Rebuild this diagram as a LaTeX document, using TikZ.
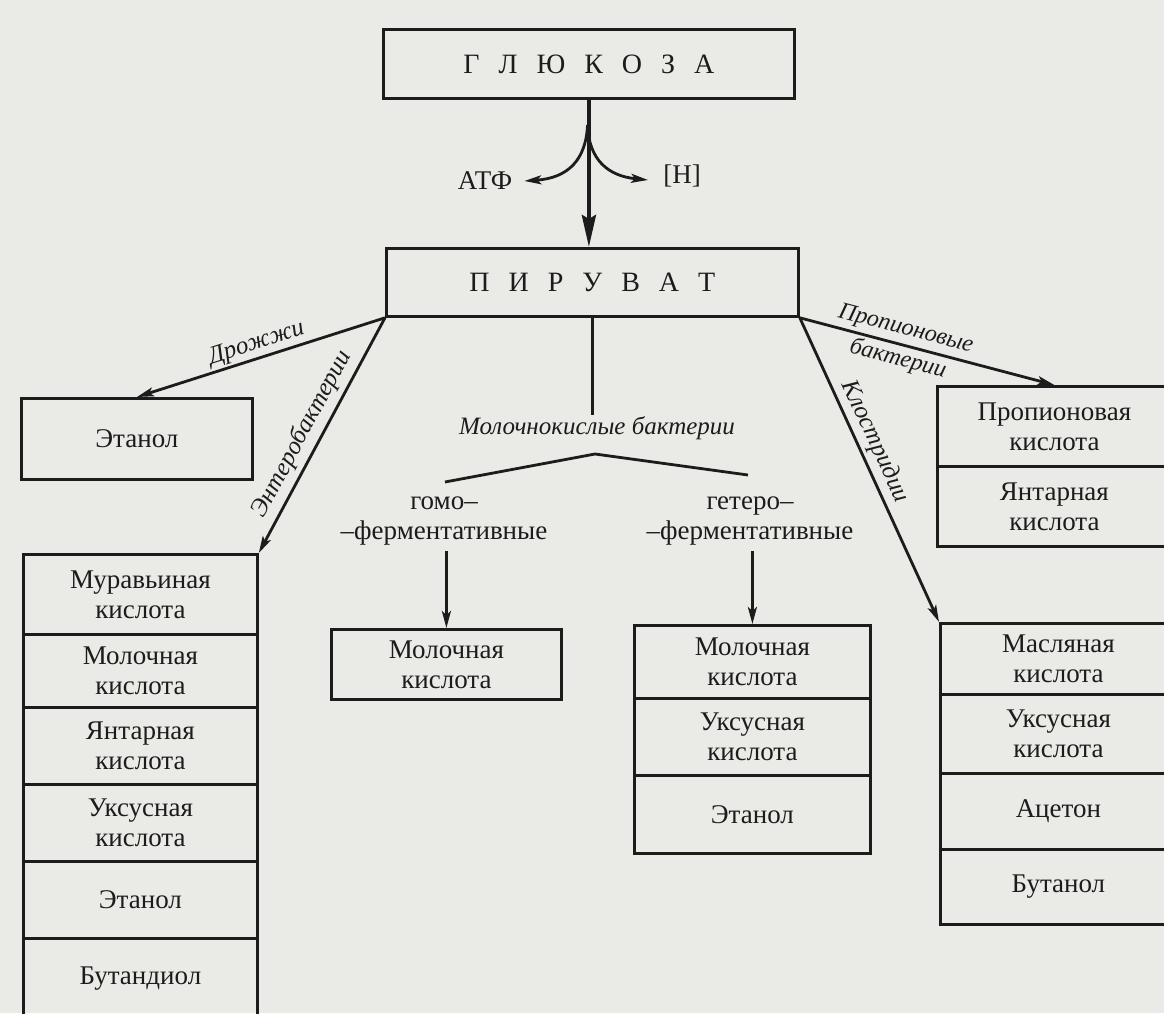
\documentclass[tikz,border=0pt]{standalone}
\usepackage{fontspec}
\setmainfont{Liberation Serif}
\usetikzlibrary{arrows.meta,calc}
\definecolor{paper}{RGB}{234,234,231}
\definecolor{ink}{RGB}{28,28,28}
\newcommand\cellfont{\fontsize{27}{30}\selectfont}
\newcommand\headfont{\fontsize{28}{30}\selectfont}
\newcommand\labfont{\fontsize{25}{29}\selectfont\itshape}
\newcommand\lgap{\hspace{19pt}}
\begin{document}
\begin{tikzpicture}[x=1pt,y=-1pt,
  cell/.style={draw=ink, line width=2.8pt, inner sep=0pt, anchor=north west,
    align=center, font=\cellfont, text=ink},
  head/.style={cell, font=\headfont},
  txt/.style={align=center, font=\cellfont, text=ink, inner sep=1pt},
  lab/.style={align=center, font=\labfont, text=ink, inner sep=1pt},
  line/.style={draw=ink, line width=2.8pt},
  conn/.style={line, -{Stealth[length=17pt,width=9pt,inset=4pt]}},
  bigarrow/.style={draw=ink, line width=4.2pt, -{Stealth[length=32pt,width=14pt,inset=4pt]}}]
\useasboundingbox (0,0) rectangle (1164,1013);
\clip (0,0) rectangle (1164,1013);
\fill[paper] (0,0) rectangle (1164,1013);

% top
\node[head, minimum width=411pt, minimum height=69pt] (glu) at (382,28)
  {Г\lgap Л\lgap Ю\lgap К\lgap О\lgap З\lgap А};
\node[head, minimum width=412pt, minimum height=68pt] (pyr) at (385,247)
  {П\lgap И\lgap Р\lgap У\lgap В\lgap А\lgap Т};
\draw[bigarrow] (glu.south) -- (glu.south |- pyr.north);
\coordinate (br) at (587.5,125);
\node[txt] (atp) at (485,181) {АТФ};
\node[txt] (hh) at (682,176) {[H]};
\draw[conn] (br) .. controls (586,160) and (568,178) .. ($(atp.east)+(11,0)$);
\draw[conn] (br) .. controls (589,160) and (608,176) .. ($(hh.west)+(-14,4)$);

% left: yeast
\node[cell, minimum width=231pt, minimum height=81pt] (eth) at (20,397) {Этанол};
% left column: enterobacteria
\node[cell, minimum width=234pt, minimum height=80pt] (ent1) at (22,553) {Муравьиная\\кислота};
\node[cell, minimum width=234pt, minimum height=73pt] (ent2) at (22,633) {Молочная\\кислота};
\node[cell, minimum width=234pt, minimum height=77pt] (ent3) at (22,706) {Янтарная\\кислота};
\node[cell, minimum width=234pt, minimum height=77pt] (ent4) at (22,783) {Уксусная\\кислота};
\node[cell, minimum width=234pt, minimum height=77pt] (ent5) at (22,860) {Этанол};
\node[cell, minimum width=234pt, minimum height=80pt] (ent6) at (22,937) {Бутандиол};

\draw[conn] (pyr.south west) -- node[lab, sloped, above=1pt, pos=0.5] (ly) {Дрожжи} (eth.north);
\draw[conn] (pyr.south west) -- node[lab, sloped, above=4pt, pos=0.53] (le) {Энтеробактерии} (ent1.north east);

% lactic acid bacteria
\node[lab] (lac) at (597,428) {Молочнокислые бактерии};
\draw[line] (pyr.south) -- (pyr.south |- lac.north);
\coordinate (apex) at (595,454);
\coordinate (rl) at (445,482);
\coordinate (rr) at (748,475);
\draw[line] (rl) -- (apex) -- (rr);
\node[txt] (homl) at (444,521) {гомо–\\–ферментативные};
\node[txt] (hetl) at (750,521) {гетеро–\\–ферментативные};
\node[cell, minimum width=230pt, minimum height=70pt] (homo) at (330,628) {Молочная\\кислота};
\node[cell, minimum width=236pt, minimum height=73pt] (het1) at (633,624) {Молочная\\кислота};
\node[cell, minimum width=236pt, minimum height=77pt] (het2) at (633,697) {Уксусная\\кислота};
\node[cell, minimum width=236pt, minimum height=78pt] (het3) at (633,774) {Этанол};
\draw[conn] ($(homo.north |- homl.south)+(0,5)$) -- (homo.north);
\draw[conn] ($(het1.north |- hetl.south)+(0,5)$) -- (het1.north);

% propionic bacteria
\node[cell, minimum width=234pt, minimum height=80pt] (prop1) at (936,385) {Пропионовая\\кислота};
\node[cell, minimum width=234pt, minimum height=80pt] (prop2) at (936,465) {Янтарная\\кислота};
\draw[conn] (pyr.south east) -- node[lab, sloped, pos=0.4, font=\fontsize{24}{31}\selectfont\itshape] (lp) {Пропионовые\\бактерии} (prop1.north);

% clostridia
\node[cell, minimum width=236pt, minimum height=71pt] (clo1) at (939,622) {Масляная\\кислота};
\node[cell, minimum width=236pt, minimum height=79pt] (clo2) at (939,693) {Уксусная\\кислота};
\node[cell, minimum width=236pt, minimum height=76pt] (clo3) at (939,772) {Ацетон};
\node[cell, minimum width=236pt, minimum height=75pt] (clo4) at (939,848) {Бутанол};
\draw[conn] (pyr.south east) -- node[lab, sloped, above=3pt, pos=0.43] (lc) {Клостридии} (clo1.north west);
\end{tikzpicture}
\end{document}
